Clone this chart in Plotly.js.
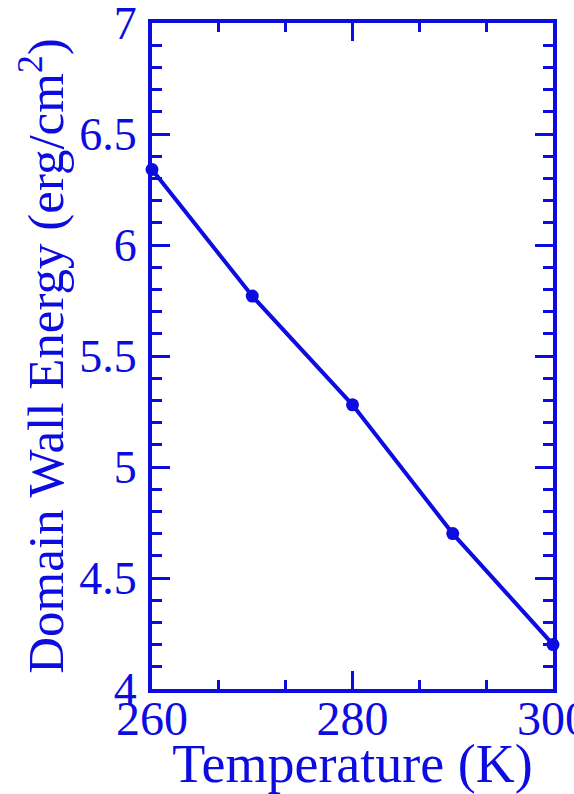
<!DOCTYPE html>
<html>
<head>
<meta charset="utf-8">
<script src="https://cdn.plot.ly/plotly-3.0.1.min.js"></script>
<style>html,body{margin:0;padding:0;background:#fff;}#chart{width:574px;height:794px;}</style>
</head>
<body>
<div id="chart"></div>
<script>
var temperatures = [260, 270, 280, 290, 300];
var wallEnergy = [6.34, 5.77, 5.28, 4.70, 4.20];
var xTitle = 'Temperature (K)';
var yTitle = 'Domain Wall Energy (erg/cm<sup>2</sup>)';

var blue = '#0c0ce0';
var serif = 'Liberation Serif, Times New Roman, serif';

var trace = {
  x: temperatures,
  y: wallEnergy,
  type: 'scatter',
  mode: 'lines+markers',
  line: {color: blue, width: 4},
  marker: {color: blue, size: 13},
  cliponaxis: false,
  showlegend: false
};

var layout = {
  width: 574,
  height: 794,
  margin: {l: 152, r: 21, t: 23, b: 105},
  paper_bgcolor: '#ffffff',
  plot_bgcolor: '#ffffff',
  font: {family: serif, color: blue},
  xaxis: {
    range: [260, 300],
    tick0: 260,
    dtick: 20,
    ticks: 'inside',
    ticklen: 18,
    tickwidth: 3,
    tickcolor: blue,
    showline: true,
    linecolor: blue,
    linewidth: 4,
    mirror: 'ticks',
    showgrid: false,
    zeroline: false,
    ticklabeloverflow: 'allow',
    tickfont: {family: serif, size: 48, color: blue},
    ticklabelstandoff: -16,
    minor: {dtick: 20/3, tick0: 260, ticks: 'inside', ticklen: 9, tickwidth: 3, tickcolor: blue, showgrid: false},
    title: {text: xTitle, font: {family: serif, size: 54, color: blue}, standoff: 0}
  },
  yaxis: {
    range: [4, 7],
    tick0: 4,
    dtick: 0.5,
    ticks: 'inside',
    ticklen: 18,
    tickwidth: 3,
    tickcolor: blue,
    showline: true,
    linecolor: blue,
    linewidth: 4,
    mirror: 'ticks',
    showgrid: false,
    zeroline: false,
    ticklabeloverflow: 'allow',
    tickfont: {family: serif, size: 46, color: blue},
    ticklabelstandoff: 2,
    minor: {dtick: 0.1, tick0: 4, ticks: 'inside', ticklen: 10, tickwidth: 3, tickcolor: blue, showgrid: false},
    title: {text: yTitle, font: {family: serif, size: 51, color: blue}, standoff: 0}
  }
};

Plotly.newPlot('chart', [trace], layout, {displayModeBar: false, staticPlot: true});
</script>
</body>
</html>
